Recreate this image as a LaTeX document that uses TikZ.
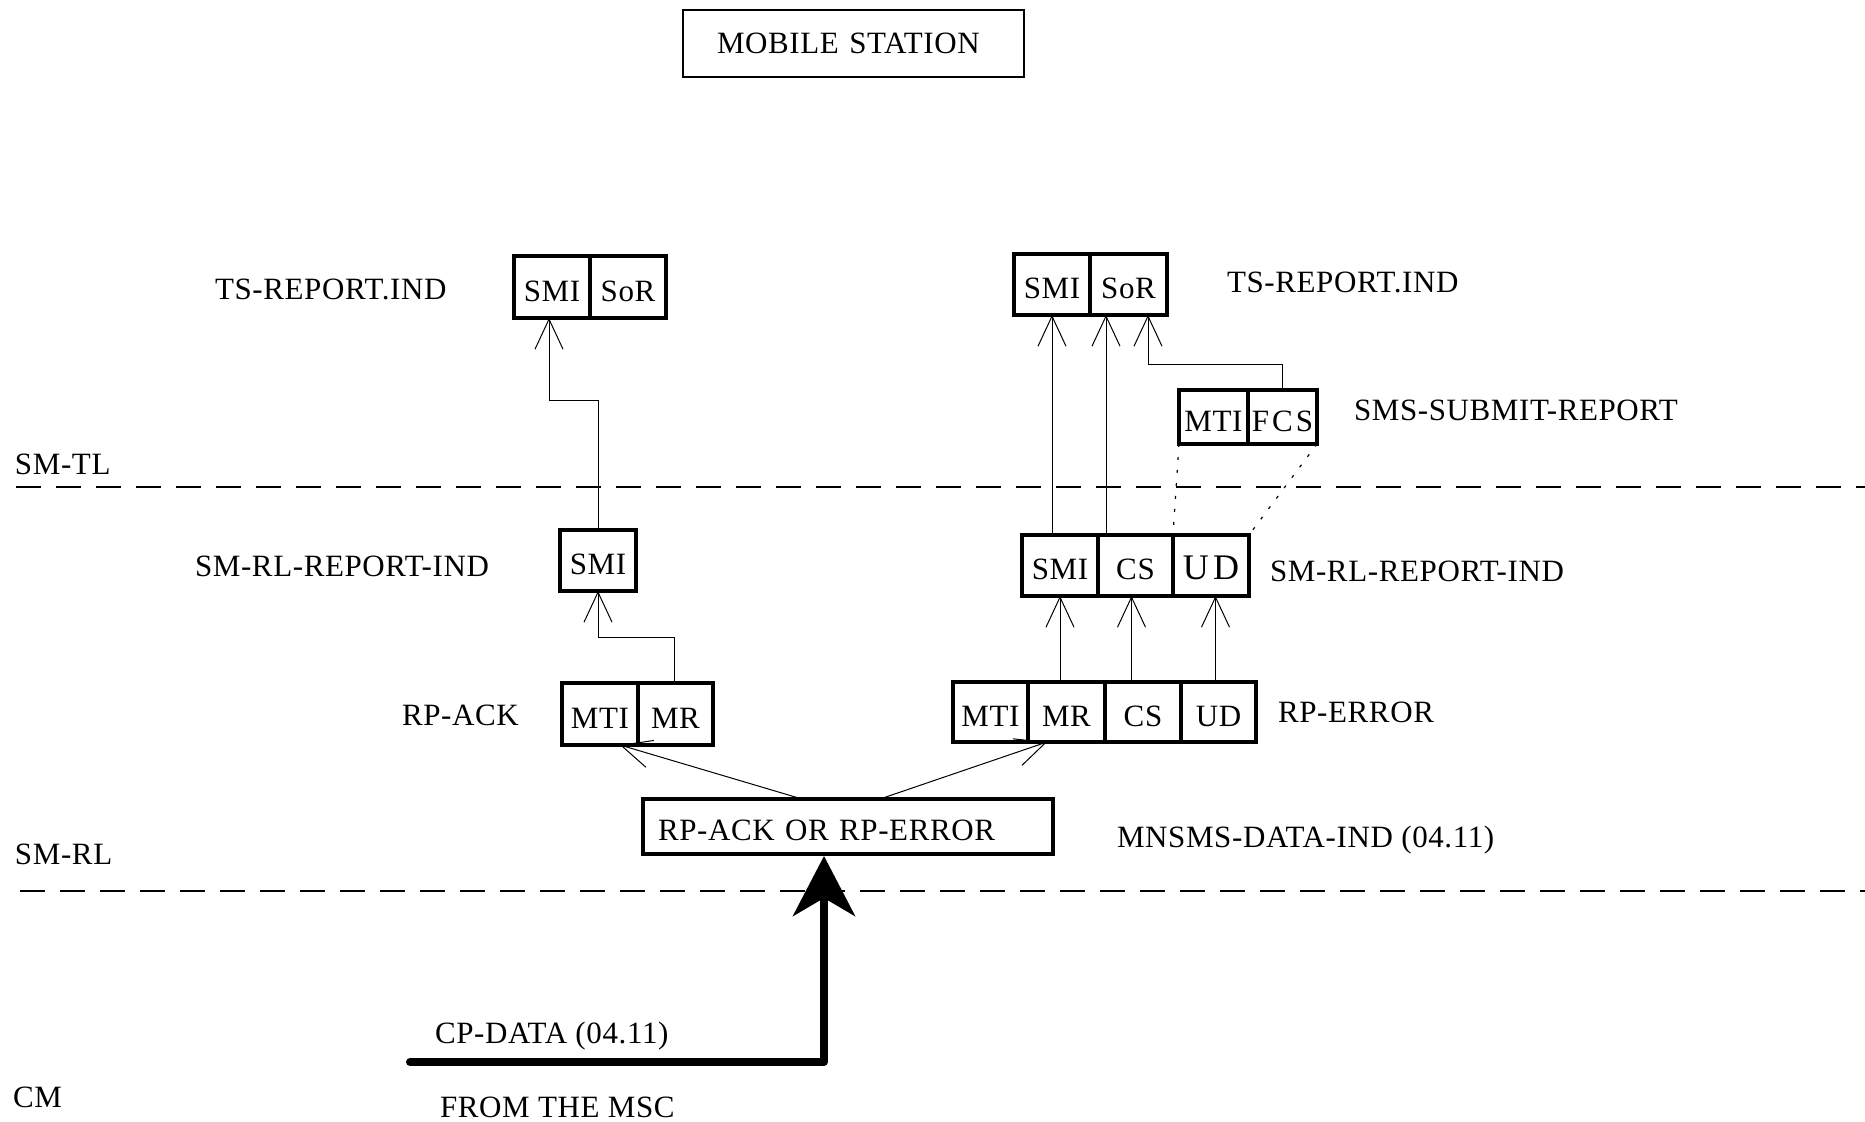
\documentclass[tikz,border=0pt]{standalone}
\usepackage{fontspec}
\setmainfont{Liberation Serif}[LetterSpace=2.0]
\usetikzlibrary{arrows.meta,calc}
\begin{document}
\begin{tikzpicture}[x=0.5pt,y=-0.5pt,
  font=\fontsize{15.5}{18}\selectfont,
  cell/.style={draw, line width=1.7pt, inner sep=0pt, outer sep=0pt, text height=14.5pt, text depth=0pt},
  thinbox/.style={draw, line width=0.6pt, inner sep=0pt, outer sep=0pt},
  lab/.style={anchor=base west, inner sep=0pt, outer sep=0pt},
  arr/.style={line width=0.5pt, -{Straight Barb[length=15pt,width=14pt]}},
  big/.style={line width=4pt, line cap=round, line join=round, -{Stealth[length=30pt,width=31pt,inset=9pt]}},
  dotline/.style={line width=0.6pt, dash pattern=on 1.5pt off 5pt},
  layer/.style={line width=0.8pt, dash pattern=on 12.5pt off 7.5pt}]
\useasboundingbox (0,0) rectangle (1865,1122);

% title
\node[thinbox, minimum height=33.5pt, inner xsep=17pt, text width=136.5pt, align=left] (ms) at (853.5,43.5) {MOBILE STATION};

% layer lines
\coordinate (tlA) at (16,487);
\coordinate (tlB) at (1865,487);
\coordinate (rlA) at (20,891);
\coordinate (rlB) at (1865,891);
\draw[layer] (tlA) -- (tlB);
\draw[layer] (rlA) -- (rlB);

% TS-REPORT.IND left
\node[cell, minimum width=38pt, minimum height=31pt] (tsLsmi) at (552,287) {SMI};
\node[cell, minimum width=38pt, minimum height=31pt] (tsLsor) at (628,287) {SoR};
% TS-REPORT.IND right
\node[cell, minimum width=38pt, minimum height=30.5pt] (tsRsmi) at (1052,284.5) {SMI};
\node[cell, minimum width=38.5pt, minimum height=30.5pt] (tsRsor) at (1128.5,284.5) {SoR};
% SMS-SUBMIT-REPORT
\node[cell, minimum width=34.5pt, minimum height=27pt] (sbMTI) at (1213.5,417) {MTI};
\node[cell, minimum width=34.5pt, minimum height=27pt] (sbFCS) at (1282.5,417) {\addfontfeature{LetterSpace=10}FCS};
% SM-RL-REPORT-IND left
\node[cell, minimum width=38pt, minimum height=30.5pt] (rlL) at (598,560.5) {SMI};
% SM-RL-REPORT-IND right
\node[cell, minimum width=38pt, minimum height=30.5pt] (rlRsmi) at (1060,565.5) {SMI};
\node[cell, minimum width=37.5pt, minimum height=30.5pt] (rlRcs) at (1135.5,565.5) {CS};
\node[cell, minimum width=38pt, minimum height=30.5pt] (rlRud) at (1211,565.5) {\fontsize{18}{20}\selectfont\addfontfeature{LetterSpace=12}UD};
% RP-ACK
\node[cell, minimum width=38pt, minimum height=31pt] (ackMTI) at (600,714) {MTI};
\node[cell, minimum width=37.5pt, minimum height=31pt] (ackMR) at (675.5,714) {MR};
% RP-ERROR
\node[cell, minimum width=37.5pt, minimum height=30pt] (errMTI) at (990.5,712) {MTI};
\node[cell, minimum width=38.5pt, minimum height=30pt] (errMR) at (1066.5,712) {MR};
\node[cell, minimum width=38pt, minimum height=30pt] (errCS) at (1143,712) {CS};
\node[cell, minimum width=37.5pt, minimum height=30pt] (errUD) at (1218.5,712) {UD};
% RP-ACK OR RP-ERROR
\node[cell, minimum height=27.5pt, inner xsep=7.5pt, text width=190pt, align=left] (rpbox) at (848,826.5) {RP-ACK OR RP-ERROR};

% labels
\node[lab] (l1) at (215,300) {TS-REPORT.IND};
\node[lab] (l2) at (1227,293) {TS-REPORT.IND};
\node[lab] (l3) at (1354,421) {SMS-SUBMIT-REPORT};
\node[lab] (l4) at (15,475) {SM-TL};
\node[lab] (l5) at (195,577) {SM-RL-REPORT-IND};
\node[lab] (l6) at (1270,582) {SM-RL-REPORT-IND};
\node[lab] (l7) at (402,726) {RP-ACK};
\node[lab] (l8) at (1278,723) {RP-ERROR};
\node[lab] (l9) at (1117,848) {MNSMS-DATA-IND (04.11)};
\node[lab] (l10) at (15,864) {SM-RL};
\node[lab] (l11) at (13,1107) {CM};
\node[lab] (l12) at (435,1043) {CP-DATA (04.11)};
\node[lab] (l13) at (440,1117) {FROM THE MSC};

% connectors
\draw[arr] (rlL.north) -- ++(0,-129) -| ($(tsLsmi.south)+(-3,0)$);
\draw[arr] ($(ackMR.north)+(-1.5,0)$) -- ++(0,-45) -| (rlL.south);
\draw[arr] (rlRsmi.south |- errMR.north) -- (rlRsmi.south);
\draw[arr] ($(rlRcs.south |- errCS.north)+(-4,0)$) -- ($(rlRcs.south)+(-4,0)$);
\draw[arr] ($(errUD.north)+(-3,0)$) -- ($(errUD.north |- rlRud.south)+(-3,0)$);
\draw[arr] (tsRsmi.south |- rlRsmi.north) -- (tsRsmi.south);
\draw[arr] ($(rlRcs.north west)+(8,0)$) -- ($(tsRsor.south west)+(16,0)$);
\draw[arr] (sbFCS.north) -- ++(0,-25) -| ($(tsRsor.south west)+(58,0)$);
\draw[dotline] (sbMTI.south west) -- (rlRud.north west);
\draw[dotline] (sbFCS.south east) -- (rlRud.north east);
\draw[arr] ($(rpbox.north west)+(159,0)$) -- ($(ackMTI.south west)+(58,0)$);
\draw[arr] ($(rpbox.north west)+(237,0)$) -- ($(errMR.south west)+(19,0)$);
\coordinate (msc) at (410,1062);
\draw[big] (msc) -| ($(rpbox.south west)+(181,2)$);
\end{tikzpicture}
\end{document}
